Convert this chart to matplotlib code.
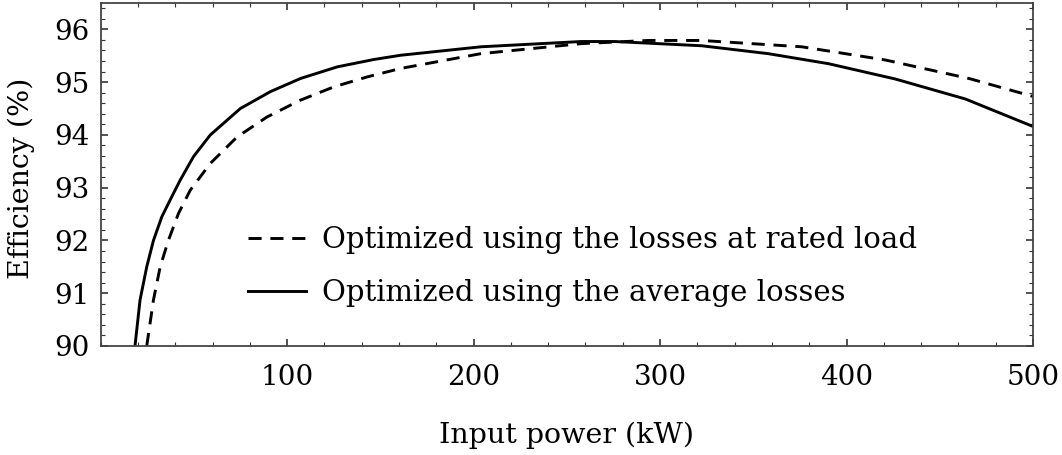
import numpy as np
import matplotlib
matplotlib.use('Agg')
import matplotlib.pyplot as plt
from matplotlib.ticker import MultipleLocator

plt.rcParams['font.family'] = 'DejaVu Serif'

# efficiency optimized using the average losses (solid)
p_avg = [18.4, 21.1, 24.7, 28.3, 32.8, 37.3, 42.6, 49.8, 58.8, 74.9, 91.0,
         107.2, 126.9, 146.6, 160.9, 203.9, 257.7, 275.6, 322.2, 358.0,
         390.3, 426.1, 463.8, 500.0]
eff_avg = [90.0, 90.87, 91.5, 92.0, 92.45, 92.77, 93.14, 93.59, 94.0, 94.5,
           94.82, 95.07, 95.29, 95.43, 95.51, 95.67, 95.77, 95.77, 95.69,
           95.54, 95.35, 95.06, 94.68, 94.16]

# efficiency optimized using the losses at rated load (dashed)
p_rated = [24.7, 28.3, 31.9, 36.3, 41.7, 48.0, 58.8, 73.1, 89.2, 107.2, 125.0,
           143.0, 160.9, 203.9, 257.7, 293.5, 322.2, 376.0, 420.8, 465.6, 500.0]
eff_rated = [90.0, 90.87, 91.5, 92.0, 92.51, 92.95, 93.46, 93.96, 94.34,
             94.66, 94.91, 95.1, 95.26, 95.54, 95.73, 95.79, 95.79, 95.67,
             95.42, 95.07, 94.73]

fig = plt.figure(figsize=(10.62, 4.55), dpi=100)
ax = fig.add_axes([0.0948, 0.2396, 0.8779, 0.7538])

ax.plot(p_rated, eff_rated, color='black', lw=2.1, dashes=(4.5, 3),
        label='Optimized using the losses at rated load')
ax.plot(p_avg, eff_avg, color='black', lw=2.1,
        label='Optimized using the average losses')

ax.set_xlim(0, 500)
ax.set_ylim(90, 96.5)
ax.xaxis.set_major_locator(MultipleLocator(100))
ax.xaxis.set_minor_locator(MultipleLocator(20))
ax.yaxis.set_major_locator(MultipleLocator(1))
ax.yaxis.set_minor_locator(MultipleLocator(0.2))
ax.set_xticks([100, 200, 300, 400, 500])

ax.tick_params(which='both', direction='in', top=True, right=True,
               labelsize=20, color='#333333')
ax.tick_params(which='major', length=5, width=1.2)
ax.tick_params(which='minor', length=3, width=0.8)
ax.tick_params(axis='x', pad=13)
ax.tick_params(axis='y', pad=8)
for s in ax.spines.values():
    s.set_linewidth(1.3)
    s.set_color('#444444')

ax.set_xlabel('Input power (kW)', fontsize=20.5, labelpad=22)
ax.set_ylabel('Efficiency (%)', fontsize=20.5)
ax.yaxis.set_label_coords(-0.0705, 0.49)

ax.legend(frameon=False, fontsize=21, loc='center left',
          bbox_to_anchor=(248 / 1062, 0.414), bbox_transform=fig.transFigure,
          borderpad=0, borderaxespad=0, handlelength=2.0,
          handletextpad=0.55, labelspacing=0.88)

plt.savefig('out.png', dpi=100)
